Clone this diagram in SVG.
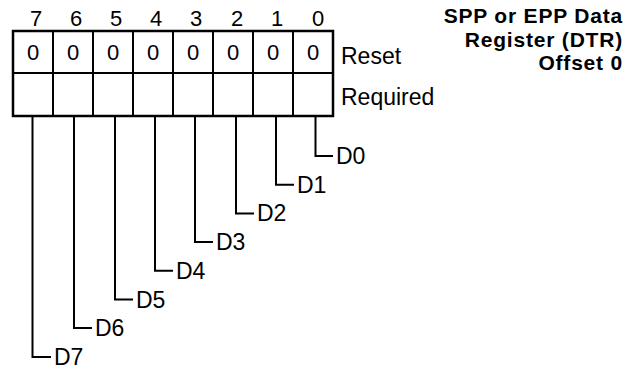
<svg xmlns="http://www.w3.org/2000/svg" width="634" height="371" viewBox="0 0 634 371">
<style>
text{font-family:"Liberation Sans",Arial,sans-serif;font-size:22px;fill:#000}
.t{font-weight:bold;text-anchor:end;font-size:21px;letter-spacing:0.8px}
.c{text-anchor:middle}
.lb{font-size:23px}
.ln{stroke:#000;stroke-width:2;fill:none}
.box{stroke:#000;stroke-width:2.5;fill:#fff}
</style>
<rect width="634" height="371" fill="#fff"/>
<g id="title">
<text class="t" x="623" y="23">SPP or EPP Data</text>
<text class="t" x="623" y="46.5">Register (DTR)</text>
<text class="t" x="623" y="70">Offset 0</text>
</g>
<g id="register">
<rect class="box" x="13" y="31" width="320" height="85"/>
<path class="ln" d="M13 73H333M53 31V116M93 31V116M133 31V116M173 31V116M213 31V116M253 31V116M293 31V116"/>
<g class="c">
<text x="36" y="26">7</text><text x="76" y="26">6</text><text x="116" y="26">5</text><text x="156" y="26">4</text><text x="196" y="26">3</text><text x="237" y="26">2</text><text x="277" y="26">1</text><text x="318" y="26">0</text>
<text x="33" y="60">0</text><text x="73" y="60">0</text><text x="113" y="60">0</text><text x="153" y="60">0</text><text x="193" y="60">0</text><text x="233" y="60">0</text><text x="273" y="60">0</text><text x="313" y="60">0</text>
</g>
<text class="lb" x="341" y="64">Reset</text>
<text class="lb" x="341" y="105">Required</text>
</g>
<g id="connectors">
<path class="ln" d="M315.5 116V156H333"/>
<path class="ln" d="M276 116V184.7H294"/>
<path class="ln" d="M236 116V213.4H254"/>
<path class="ln" d="M195 116V242H213"/>
<path class="ln" d="M155 116V270.8H173"/>
<path class="ln" d="M115 116V299.5H133"/>
<path class="ln" d="M74 116V328H92"/>
<path class="ln" d="M32.5 116V357H51"/>
</g>
<g id="labels">
<text class="lb" x="336" y="164">D0</text>
<text class="lb" x="297" y="192.7">D1</text>
<text class="lb" x="257" y="221.4">D2</text>
<text class="lb" x="216" y="250">D3</text>
<text class="lb" x="176" y="278.8">D4</text>
<text class="lb" x="136" y="307.5">D5</text>
<text class="lb" x="95" y="336">D6</text>
<text class="lb" x="54" y="365">D7</text>
</g>
</svg>
